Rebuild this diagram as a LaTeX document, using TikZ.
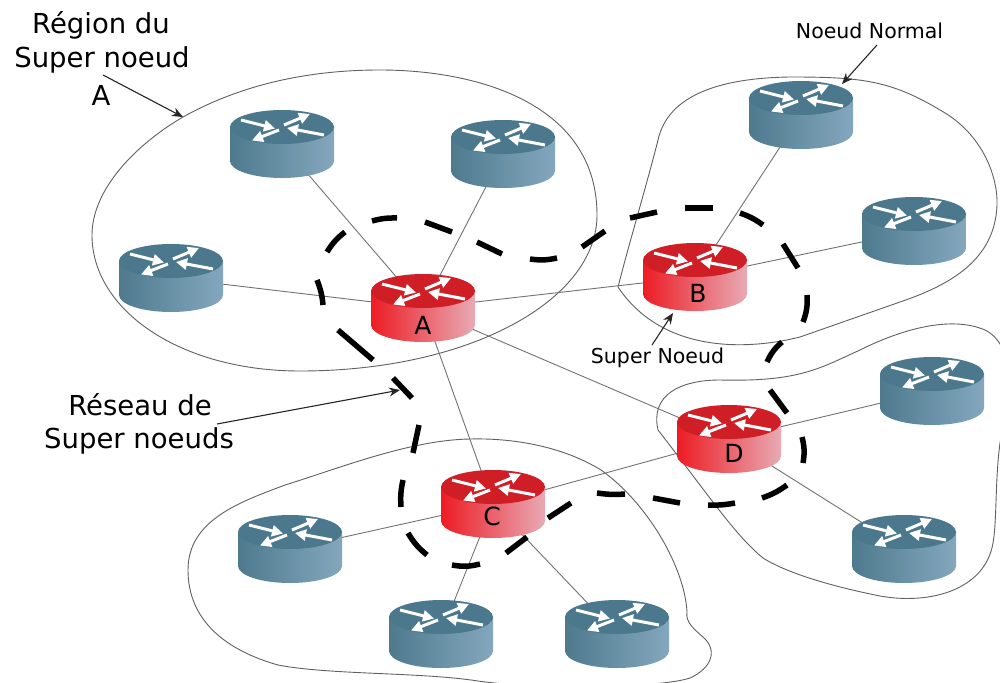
\documentclass[tikz,border=0pt]{standalone}
\usepackage{fontspec}
\setmainfont{DejaVu Sans}
\usetikzlibrary{arrows.meta}
\definecolor{redtop}{RGB}{208,30,38}
\definecolor{redleft}{RGB}{237,28,36}
\definecolor{redmid}{RGB}{236,70,95}
\definecolor{redright}{RGB}{232,170,180}
\definecolor{bluetop}{RGB}{75,120,140}
\definecolor{blueleft}{RGB}{78,122,142}
\definecolor{bluemid}{RGB}{100,143,165}
\definecolor{blueright}{RGB}{132,167,190}
\tikzset{
  routerbox/.style={inner sep=0pt,minimum width=104pt,minimum height=68pt},
  link/.style={draw=black!55,line width=0.9pt},
  region/.style={draw=black!62,line width=0.9pt},
  ringdash/.style={draw=black,line width=5.5pt},
  pointer/.style={draw=black!85,line width=1.1pt,-{Stealth[length=11pt,width=9pt]}},
  whitearrow/.style={draw=white,line width=3pt,-{Triangle[length=11pt,width=11pt]}},
  biglabel/.style={font=\fontsize{27.5}{33}\selectfont,inner sep=0pt,align=center},
  smalllabel/.style={font=\fontsize{20.5}{24}\selectfont,inner sep=0pt},
  letter/.style={font=\fontsize{25}{30}\selectfont,inner sep=0pt}
}
% name, top colour, left, middle, right colours
\newcommand{\routerdraw}[5]{%
  \begin{scope}[shift={(#1.center)}]
    \shade[left color=#3,middle color=#4,right color=#5]
      (-52,-17) -- (-52,17) .. controls (-52,26.4) and (-28.7,34) .. (0,34)
      .. controls (28.7,34) and (52,26.4) .. (52,17) -- (52,-17) -- cycle;
    \fill[#2] (0,-17) ellipse [x radius=52,y radius=17];
    \draw[whitearrow] (-41,-24) -- (-7,-15.5);
    \draw[whitearrow] (2,-19) -- (28,-30);
    \draw[whitearrow] (42,-9) -- (5,-16);
    \draw[whitearrow] (-3,-14) -- (-30,-3.5);
  \end{scope}}
\newcommand{\blueR}[1]{\routerdraw{#1}{bluetop}{blueleft}{bluemid}{blueright}}
\newcommand{\redR}[1]{\routerdraw{#1}{redtop}{redleft}{redmid}{redright}}
\begin{document}
\begin{tikzpicture}[x=1pt,y=-1pt]
\useasboundingbox (0,0) rectangle (1000,682);
\clip (0,0) rectangle (1000,682);
\fill[white] (0,0) rectangle (1000,682);
% router anchors
\node[routerbox] (r1) at (282,144) {};
\node[routerbox] (r2) at (503,154) {};
\node[routerbox] (r3) at (171,278) {};
\node[routerbox] (A) at (423,308) {};
\node[routerbox] (B) at (695,277) {};
\node[routerbox] (n1) at (801,115) {};
\node[routerbox] (n2) at (914,231) {};
\node[routerbox] (n3) at (932,391) {};
\node[routerbox] (D) at (729,439) {};
\node[routerbox] (n4) at (904,549) {};
\node[routerbox] (C) at (493,504) {};
\node[routerbox] (n5) at (290,549) {};
\node[routerbox] (n6) at (441,634) {};
\node[routerbox] (n7) at (617,634) {};
% regions
\draw[region] (92,235) .. controls (92,190) and (135,145) .. (183,117)
  .. controls (235,88) and (300,70) .. (380,70)
  .. controls (480,70) and (597,105) .. (597,215)
  .. controls (597,300) and (470,371) .. (300,371)
  .. controls (180,371) and (92,310) .. (92,235) -- cycle;
\draw[region] (618,287) .. controls (630,240) and (648,180) .. (658,140)
  .. controls (668,95) and (720,78) .. (790,77)
  .. controls (860,77) and (890,80) .. (940,110)
  .. controls (985,135) and (998,180) .. (997,205)
  .. controls (995,260) and (950,285) .. (900,302)
  -- (800,337)
  .. controls (740,352) and (660,350) .. (618,287) -- cycle;
\draw[region] (658,430) .. controls (650,395) and (680,380) .. (720,380)
  .. controls (800,382) and (820,368) .. (860,350)
  .. controls (900,330) and (950,315) .. (985,330)
  .. controls (1015,345) and (1010,390) .. (1000,443)
  .. controls (995,480) and (997,520) .. (993,543)
  .. controls (985,590) and (930,605) .. (880,596)
  .. controls (840,588) and (790,575) .. (763,558)
  .. controls (735,535) and (710,497) .. (658,430) -- cycle;
\draw[region] (687,612) .. controls (685,570) and (650,505) .. (601,470)
  .. controls (560,445) and (510,438) .. (470,439)
  .. controls (410,440) and (340,468) .. (285,485)
  .. controls (240,502) and (188,520) .. (188,570)
  .. controls (188,620) and (225,650) .. (278,665)
  .. controls (330,675) and (420,672) .. (478,681)
  .. controls (540,690) and (660,688) .. (690,678)
  .. controls (712,668) and (718,650) .. (703,637)
  .. controls (695,630) and (685,622) .. (687,612) -- cycle;
% links
\draw[link] (A.center) -- (r1.center);
\draw[link] (A.center) -- (r2.center);
\draw[link] (A.center) -- (r3.center);
\draw[link] (A.center) -- (B.center);
\draw[link] (A.center) -- (C.center);
\draw[link] (A.center) -- (D.center);
\draw[link] (B.center) -- (n1.center);
\draw[link] (B.center) -- (n2.center);
\draw[link] (C.center) -- (D.center);
\draw[link] (C.center) -- (n5.center);
\draw[link] (C.center) -- (n6.center);
\draw[link] (C.center) -- (n7.center);
\draw[link] (D.center) -- (n3.center);
\draw[link] (D.center) -- (n4.center);
% routers
\blueR{r1}\blueR{r2}\blueR{r3}\blueR{n1}\blueR{n2}\blueR{n3}\blueR{n4}\blueR{n5}\blueR{n6}\blueR{n7}
\redR{A}\redR{B}\redR{C}\redR{D}
\node[letter] (la) at (423,325) {A};
\node[letter] (lb) at (698,293) {B};
\node[letter] (lc) at (492,516) {C};
\node[letter] (ld) at (734,453) {D};
% dashed ring of super nodes
\foreach \xa/\ya/\xb/\yb/\k in {
 317/280/323/305/8, 327/252/345/232/10, 372/221/397/218/8, 425/222/452/232/0,
 477/242/502/254/0, 530/259/557/258/-10, 582/247/605/231/0, 630/218/657/212/0,
 685/208/713/208/0, 740/213/763/225/8, 783/244/798/268/0, 807/295/803/322/12,
 782/342/767/362/-12, 770/390/787/413/0, 802/437/803/463/12, 787/485/762/498/8,
 735/503/708/505/6, 680/503/653/498/0, 625/494/597/493/6, 571/503/548/518/0,
 527/537/506/553/0, 480/564/452/565/12, 427/555/408/533/10, 401/507/403/480/8,
 413/453/419/425/0, 412/398/393/378/0, 373/360/338/330/0}
{ \draw[ringdash] (\xa,\ya) to[bend left=\k] (\xb,\yb); }
% labels
\node[biglabel] (t1) at (101,25) {Région du};
\node[biglabel] (t2) at (102,60) {Super noeud};
\node[biglabel] (t3) at (101,95) {A};
\node[biglabel] (t4) at (140,405) {Réseau de};
\node[biglabel] (t5) at (139,441) {Super noeuds};
\node[smalllabel] (t6) at (869.5,31) {Noeud Normal};
\node[smalllabel] (t7) at (657.5,358) {Super Noeud};
% pointers
\coordinate (p1a) at (103,75); \coordinate (p1b) at (183,117);
\coordinate (p2a) at (217,424); \coordinate (p2b) at (400,390);
\coordinate (p3a) at (877,45); \coordinate (p3b) at (842,84);
\coordinate (p4a) at (652,345); \coordinate (p4b) at (673,313);
\draw[pointer] (p1a) -- (p1b);
\draw[pointer] (p2a) -- (p2b);
\draw[pointer] (p3a) -- (p3b);
\draw[pointer] (p4a) -- (p4b);
\end{tikzpicture}
\end{document}
